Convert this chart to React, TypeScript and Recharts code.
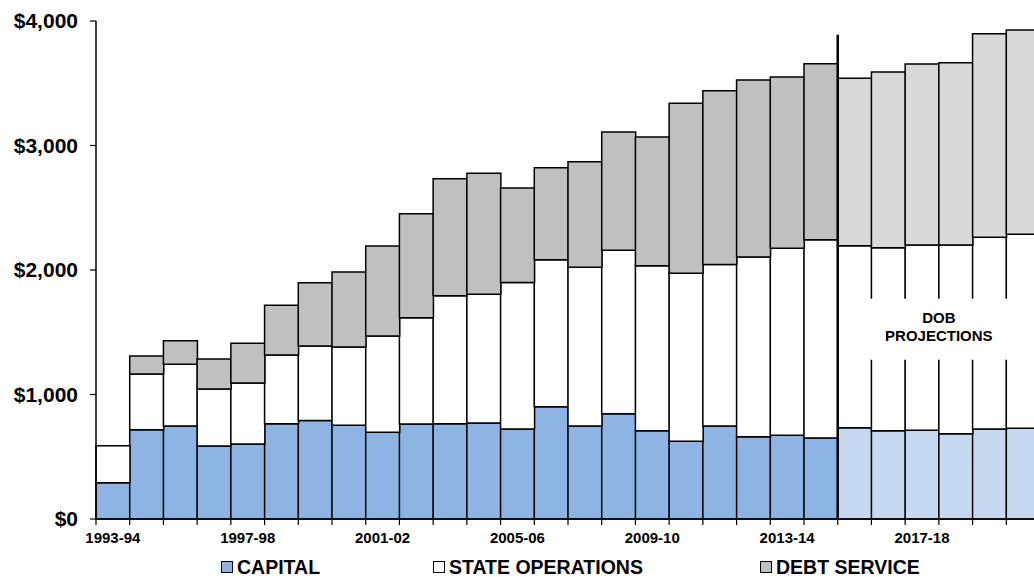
import React from "react";
import {
  BarChart,
  Bar,
  XAxis,
  YAxis,
  Cell,
  Legend,
  ReferenceLine,
  ReferenceArea,
} from "recharts";

const YEARS = [
  "1993-94", "1994-95", "1995-96", "1996-97", "1997-98", "1998-99", "1999-00",
  "2000-01", "2001-02", "2002-03", "2003-04", "2004-05", "2005-06", "2006-07",
  "2007-08", "2008-09", "2009-10", "2010-11", "2011-12", "2012-13", "2013-14",
  "2014-15", "2015-16", "2016-17", "2017-18", "2018-19", "2019-20", "2020-21",
];
const CAPITAL = [
  292, 717, 747, 586, 602, 766, 792, 754, 696, 763, 766, 771, 723, 902,
  747, 846, 709, 624, 747, 661, 672, 651, 733, 709, 712, 685, 723, 728,
];
const STATE_OPS = [
  297, 448, 495, 458, 490, 551, 598, 627, 774, 854, 1028, 1034, 1177, 1181,
  1275, 1312, 1326, 1349, 1298, 1443, 1502, 1592, 1462, 1470, 1489, 1516, 1540, 1559,
];
const DEBT = [
  0, 144, 190, 241, 319, 399, 508, 603, 723, 835, 939, 972, 759, 739,
  848, 950, 1033, 1366, 1395, 1422, 1376, 1414, 1345, 1411, 1454, 1464, 1635, 1641,
];
const FIRST_PROJECTION = "2015-16";
const LAST_YEAR = "2020-21";
const Y_TICKS = [0, 1000, 2000, 3000, 4000];
const LEGEND_ITEMS = [
  { key: "capital", label: "CAPITAL" },
  { key: "stateOps", label: "STATE OPERATIONS" },
  { key: "debt", label: "DEBT SERVICE" },
];

const projStart = YEARS.indexOf(FIRST_PROJECTION);
const data = YEARS.map((year, i) => ({
  year,
  capital: CAPITAL[i],
  stateOps: STATE_OPS[i],
  debt: DEBT[i],
  projected: i >= projStart,
}));

const FONT = '"Liberation Sans", Arial, sans-serif';
const CHART_W = 1060;
const CHART_H = 577;
const MARGIN = { top: 21, right: 20, left: 0, bottom: 0 };
const Y_AXIS_W = 96;
const BAND = (CHART_W - MARGIN.left - MARGIN.right - Y_AXIS_W) / YEARS.length;

const COLORS = {
  capital: "#8DB4E2",
  capitalProj: "#C6D9F1",
  stateOps: "#FFFFFF",
  debt: "#C0C0C0",
  debtProj: "#D9D9D9",
};
const LEGEND_LEFT = [221, 433, 760];

const XTick = (props: any) => {
  const { x, y, payload, index } = props;
  const bx = x - BAND / 2;
  return (
    <g>
      <line x1={bx} x2={bx} y1={y - 6} y2={y} stroke="#000" strokeWidth={1.2} />
      {index % 4 === 0 && (
        <text
          x={x}
          y={y + 18}
          textAnchor="middle"
          fontFamily={FONT}
          fontWeight="bold"
          fontSize={15}
          fill="#000"
        >
          {payload.value}
        </text>
      )}
    </g>
  );
};

const ProjLabel = (props: any) => {
  const vb = props.viewBox || {};
  const cx = vb.x + vb.width / 2;
  const cy = vb.y + vb.height / 2;
  return (
    <text
      x={cx}
      y={cy}
      textAnchor="middle"
      fontFamily={FONT}
      fontWeight="bold"
      fontSize={15}
      fill="#000"
    >
      <tspan x={cx} dy={-6}>DOB</tspan>
      <tspan x={cx} dy={18}>PROJECTIONS</tspan>
    </text>
  );
};

const renderLegend = () => (
  <div style={{ position: "relative", height: 34, width: CHART_W }}>
    {LEGEND_ITEMS.map((item, i) => (
      <div
        key={item.key}
        style={{
          position: "absolute",
          left: LEGEND_LEFT[i],
          top: 12,
          display: "flex",
          alignItems: "center",
          fontFamily: FONT,
          fontWeight: "bold",
          fontSize: 19.5,
          color: "#000",
          lineHeight: "24px",
          whiteSpace: "nowrap",
        }}
      >
        <span
          style={{
            display: "inline-block",
            width: 10,
            height: 10,
            border: "1.5px solid #000",
            background: (COLORS as any)[item.key],
            marginRight: 4,
          }}
        />
        <span>{item.label}</span>
      </div>
    ))}
  </div>
);

export default function App() {
  return (
    <div
      style={{
        position: "absolute",
        left: 0,
        top: 0,
        width: 1034,
        height: 577,
        overflow: "hidden",
        background: "#fff",
      }}
    >
      <BarChart
        width={CHART_W}
        height={CHART_H}
        data={data}
        margin={MARGIN}
        barCategoryGap={0}
      >
        <XAxis
          dataKey="year"
          interval={0}
          tickLine={false}
          tickSize={6}
          tickMargin={0}
          height={24}
          axisLine={{ stroke: "#000", strokeWidth: 1.5 }}
          tick={<XTick />}
        />
        <YAxis
          width={Y_AXIS_W}
          domain={[0, 4000]}
          ticks={Y_TICKS}
          interval={0}
          tickSize={6}
          tickMargin={12}
          axisLine={{ stroke: "#000", strokeWidth: 1.5 }}
          tickLine={{ stroke: "#000", strokeWidth: 1.2 }}
          tick={{ fontFamily: FONT, fontWeight: "bold", fontSize: 21, fill: "#000" }}
          tickFormatter={(v: number) => "$" + v.toLocaleString("en-US")}
        />
        <Legend
          verticalAlign="bottom"
          content={renderLegend}
          wrapperStyle={{ left: 0, bottom: 0, width: CHART_W }}
        />
        <Bar dataKey="capital" stackId="a" stroke="#000" strokeWidth={1.5} isAnimationActive={false}>
          {data.map((d, i) => (
            <Cell key={i} fill={d.projected ? COLORS.capitalProj : COLORS.capital} />
          ))}
        </Bar>
        <Bar dataKey="stateOps" stackId="a" fill={COLORS.stateOps} stroke="#000" strokeWidth={1.5} isAnimationActive={false} />
        <Bar dataKey="debt" stackId="a" stroke="#000" strokeWidth={1.5} isAnimationActive={false}>
          {data.map((d, i) => (
            <Cell key={i} fill={d.projected ? COLORS.debtProj : COLORS.debt} />
          ))}
        </Bar>
        <ReferenceArea
          x1={FIRST_PROJECTION}
          x2={LAST_YEAR}
          y1={1280}
          y2={1770}
          fill="#fff"
          fillOpacity={1}
          stroke="none"
          ifOverflow="visible"
          zIndex={1000}
          label={ProjLabel}
        />
        <ReferenceLine
          segment={[
            { x: FIRST_PROJECTION, y: 0 },
            { x: FIRST_PROJECTION, y: 3890 },
          ]}
          position="start"
          stroke="#000"
          strokeWidth={2.5}
          ifOverflow="visible"
          zIndex={1001}
        />
      </BarChart>
    </div>
  );
}
